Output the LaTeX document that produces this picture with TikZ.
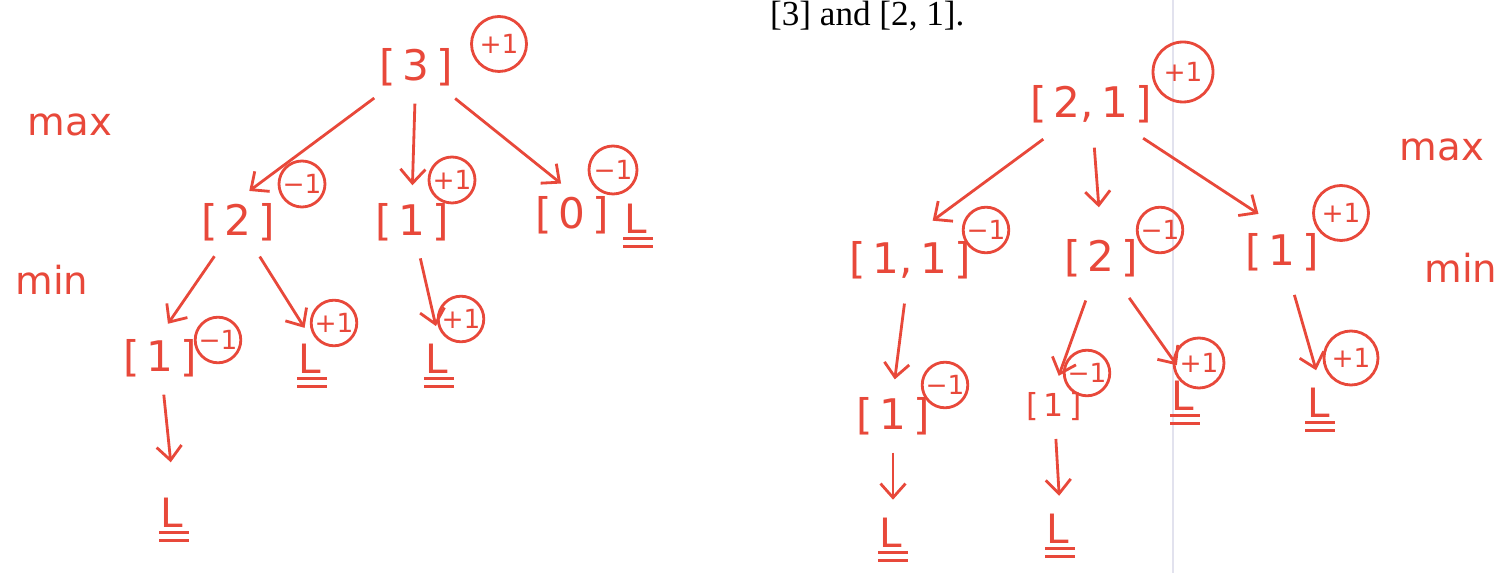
\documentclass[tikz,border=0pt]{standalone}
\usepackage{fontspec}
\usepackage{tikz}
\usetikzlibrary{arrows.meta,positioning}
\newfontfamily\hand{DejaVu Sans}
\newfontfamily\printed{Liberation Serif}
\definecolor{inkred}{RGB}{232,72,58}
\definecolor{pageedge}{RGB}{226,226,238}
\newcommand{\lmark}{\vtop{\hbox{\kern1pt L\kern3pt}\kern2.5pt\hrule height1.7pt\kern2.8pt\hrule height1.7pt}}

\begin{document}
\begin{tikzpicture}[
    x=0.02cm, y=-0.02cm,
    posn/.style={inkred, font=\hand\fontsize{24}{26}\selectfont, inner sep=2pt},
    val/.style={circle, draw=inkred, text=inkred, line width=1.6pt, inner sep=0.5pt, minimum size=#1, font=\hand\fontsize{15}{15}\selectfont},
    val/.default=0.9cm,
    leaf/.style={inkred, font=\hand\fontsize{23}{25}\selectfont, inner sep=2pt},
    lvl/.style={inkred, font=\hand\fontsize{22}{24}\selectfont},
    arrow/.style={draw=inkred, line width=1.6pt, -{Straight Barb[length=2.8mm,width=5mm]}, shorten <=8pt, shorten >=8pt}
]
    \useasboundingbox (0,0) rectangle (1501,573);
    \draw[pageedge, line width=0.8pt] (1173,0) -- (1173,573);

    \node[anchor=base west, font=\printed\fontsize{20}{22}\selectfont] (caption) at (764,26) {[3] and [2, 1].};

    \node[lvl] (maxL) at (70,125) {max};
    \node[lvl] (minL) at (52,280) {min};
    \node[lvl] (maxR) at (1442,150) {max};
    \node[lvl] (minR) at (1461,268) {min};

    \node[posn] (r3) at (416,67) {[\,3\,]};
    \node[val=1.1cm] (v3) at (499,44) {+1};
    \node[posn] (r3a) at (238,222) {[\,2\,]};
    \node[val=0.92cm] (v3a) at (302,184) {−1};
    \node[posn] (r3b) at (412,222) {[\,1\,]};
    \node[val=0.92cm] (v3b) at (452,180) {+1};
    \node[posn] (r3c) at (572,215) {[\,0\,]};
    \node[val=0.96cm] (v3c) at (613,170) {−1};
    \node[leaf] (r3cl) at (638,226) {\lmark};
    \node[posn] (r3aa) at (160,358) {[\,1\,]};
    \node[val=0.8cm] (v3aa) at (218,340) {−1};
    \node[leaf] (r3ab) at (312,366) {\lmark};
    \node[val=0.8cm] (v3ab) at (334,323) {+1};
    \node[leaf] (r3ba) at (439,366) {\lmark};
    \node[val=0.84cm] (v3ba) at (461,319) {+1};
    \node[leaf] (r3aaa) at (174,520) {\lmark};

    \draw[arrow] (r3) -- (r3a.north);
    \draw[arrow] (r3) -- (r3b.north);
    \draw[arrow] (r3) -- (r3c.north);
    \draw[arrow] (r3a) -- (r3aa.north);
    \draw[arrow] (r3a) -- (r3ab.north);
    \draw[arrow] (r3b) -- (r3ba.north);
    \draw[arrow, shorten >=18pt] (r3aa) -- (r3aaa.north);

    \node[posn] (s21) at (1091,104) {[\,2,\,1\,]};
    \node[val=1.2cm] (v21) at (1183,72) {+1};
    \node[posn] (s21a) at (910,260) {[\,1,\,1\,]};
    \node[val=0.9cm] (v21a) at (986,230) {−1};
    \node[posn] (s21b) at (1101,258) {[\,2\,]};
    \node[val=0.84cm] (v21b) at (1160,230) {−1};
    \node[posn] (s21c) at (1282,252) {[\,1\,]};
    \node[val=1.1cm] (v21c) at (1341,213) {+1};
    \node[posn] (s21aa) at (893,416) {[\,1\,]};
    \node[val=0.88cm] (v21aa) at (945,385) {−1};
    \node[posn, font=\hand\fontsize{18}{20}\selectfont] (s21ba) at (1054,407) {[\,1\,]};
    \node[val=0.76cm] (v21ba) at (1087,373) {−1};
    \node[leaf] (s21bb) at (1185,403) {\lmark};
    \node[val=1.0cm] (v21bb) at (1199,363) {+1};
    \node[leaf] (s21ca) at (1320,410) {\lmark};
    \node[val=1.08cm] (v21ca) at (1351,358) {+1};
    \node[leaf] (s21aaa) at (893,540) {\lmark};
    \node[leaf] (s21baa) at (1060,536) {\lmark};

    \draw[arrow, shorten <=12pt, shorten >=16pt] (s21) -- (s21a.north);
    \draw[arrow, shorten <=12pt, shorten >=16pt] (s21) -- (s21b.north);
    \draw[arrow, shorten <=12pt, shorten >=16pt] (s21) -- (s21c.north);
    \draw[arrow, shorten <=12pt] (s21a) -- (s21aa.north);
    \draw[arrow, shorten <=12pt] (s21b) -- (s21ba.north);
    \draw[arrow, shorten <=12pt] (s21b) -- (s21bb.north);
    \draw[arrow, shorten <=12pt] (s21c) -- (s21ca.north);
    \draw[arrow] (s21aa) -- (s21aaa.north);
    \draw[arrow] (s21ba) -- (s21baa.north);
\end{tikzpicture}
\end{document}
